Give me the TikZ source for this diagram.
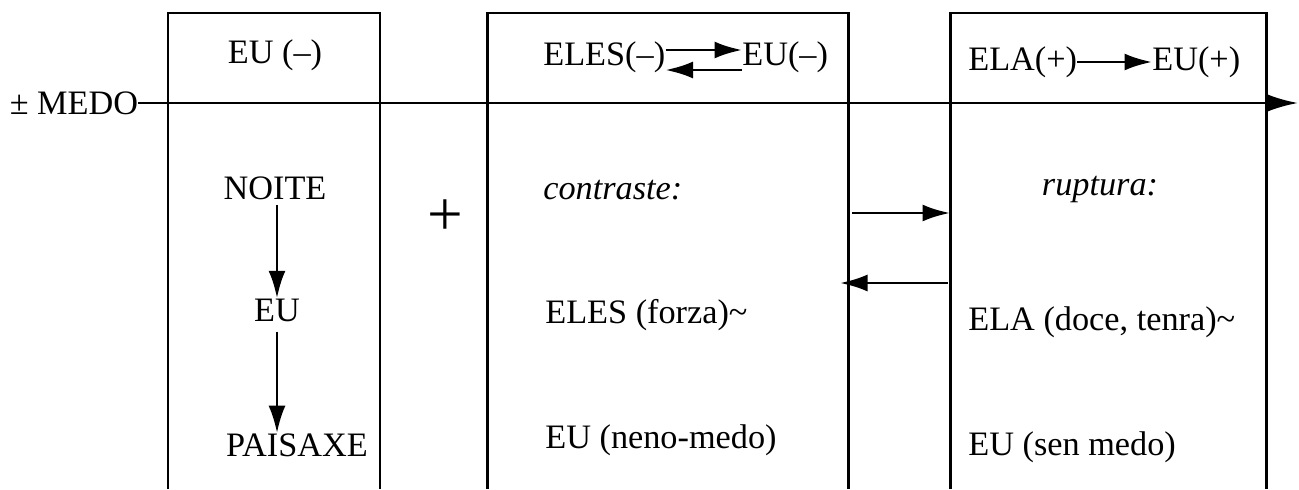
\documentclass[tikz,border=0pt]{standalone}
\usepackage{fontspec}
\setmainfont{Liberation Serif}
\usetikzlibrary{positioning,arrows.meta}

\begin{document}
\begin{tikzpicture}[
    >={Latex[length=5.5mm,width=3.4mm]},
    font=\fontsize{19.5}{23}\selectfont,
    txt/.style={inner sep=0pt, anchor=west},
    ctr/.style={inner sep=0pt},
    frame/.style={line width=1.7pt},
    lnk/.style={->, line width=1.6pt},
  ]
    \useasboundingbox (0,0) rectangle (25.98,9.78);

    % three boxes, open at the bottom
    \foreach \l/\r in {3.36/7.60, 9.74/16.96, 19.00/25.32}
      \draw[frame] (\l,0) -- (\l,9.52) -- (\r,9.52) -- (\r,0);

    \node[ctr] (medo) at (1.48,7.72) {± MEDO};
    \coordinate (axend) at (25.96,7.72);
    \draw[->, >={Latex[length=6.5mm,width=3.8mm]}, line width=1.7pt] (medo) -- (axend);

    \node[ctr] (eu0)     at (5.50,8.68) {EU (\textendash)};
    \node[ctr] (noite)   at (5.50,6.02) {NOITE};
    \node[ctr] (eu1)     at (5.54,3.58) {EU};
    \node[ctr] (paisaxe) at (5.94,0.88) {PAISAXE};
    \draw[lnk] ([yshift=-1mm]noite.south -| eu1) -- (eu1.north);
    \draw[lnk] ([yshift=-2mm]eu1.south) -- (eu1.south |- paisaxe.north);

    \node[ctr, font=\fontsize{36}{38}\selectfont] (plus) at (8.90,5.42) {+};

    \node[txt] (eles0) at (10.86,8.64) {ELES(\textendash)};
    \node[txt] (eu2)   at (14.84,8.64) {EU(\textendash)};
    \draw[lnk] ([yshift=1.4mm]eles0.east) -- ([yshift=1.4mm]eu2.west);
    \draw[lnk] ([yshift=-2.6mm]eu2.west) -- ([yshift=-2.6mm]eles0.east);
    \node[txt, font=\fontsize{19.5}{23}\selectfont\itshape] (contr) at (10.86,5.98) {contraste:};
    \node[txt] (eles1) at (10.90,3.48) {ELES (forza)\textasciitilde};
    \node[txt] (eu3)   at (10.90,0.98) {EU (neno-medo)};

    \node[txt] (ela0) at (19.36,8.54) {ELA(+)};
    \node[txt] (eu4)  at (23.04,8.54) {EU(+)};
    \draw[lnk] (ela0) -- (eu4);
    \node[ctr, font=\fontsize{19.5}{23}\selectfont\itshape] (rupt) at (22.00,5.98) {ruptura:};
    \node[txt] (ela1) at (19.36,3.34) {ELA (doce, tenra)\textasciitilde};
    \node[txt] (eu5)  at (19.36,0.84) {EU (sen medo)};

    % links between the 2nd and 3rd box
    \coordinate (b2hi) at (17.04,5.52);
    \coordinate (b3hi) at (19.00,5.52);
    \coordinate (b3lo) at (18.96,4.12);
    \coordinate (b2lo) at (16.80,4.12);
    \draw[lnk] (b2hi) -- (b3hi);
    \draw[lnk] (b3lo) -- (b2lo);
  \end{tikzpicture}
\end{document}
